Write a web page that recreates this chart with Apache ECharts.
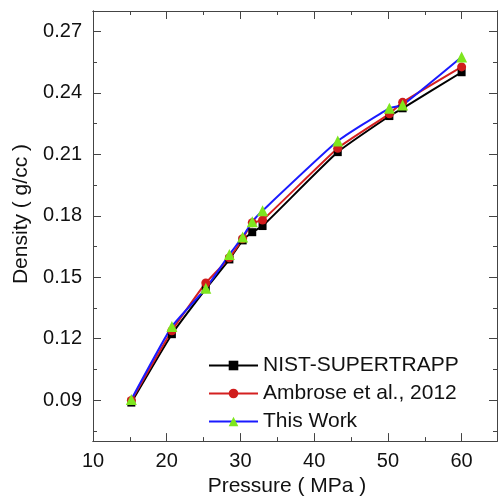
<!DOCTYPE html>
<html>
<head>
<meta charset="utf-8">
<script src="https://cdn.jsdelivr.net/npm/echarts@6/dist/echarts.min.js"></script>
<style>
html,body{margin:0;padding:0;background:#fff;}
#chart{width:498px;height:502px;}
</style>
</head>
<body>
<div id="chart"></div>
<script>
const pressure = [15.2, 20.7, 25.3, 28.5, 30.3, 31.6, 33.0, 43.2, 50.2, 52.0, 60.0];
const nist     = [0.0888, 0.1222, 0.1443, 0.1587, 0.1680, 0.1720, 0.1750, 0.2111, 0.2287, 0.2325, 0.2501];
const ambrose  = [0.0898, 0.1239, 0.1472, 0.1595, 0.1688, 0.1766, 0.1779, 0.2130, 0.2298, 0.2354, 0.2527];
const thisWork = [0.0903, 0.1259, 0.1446, 0.1611, 0.1697, 0.1771, 0.1825, 0.2165, 0.2325, 0.2341, 0.2575];
const seriesNames = ['NIST-SUPERTRAPP', 'Ambrose et al., 2012', 'This Work'];
const xMajor = [10, 20, 30, 40, 50, 60];
const xMinor = [15, 25, 35, 45, 55];
const yMajor = [0.09, 0.12, 0.15, 0.18, 0.21, 0.24, 0.27];
const yMinor = [0.075, 0.105, 0.135, 0.165, 0.195, 0.225, 0.255];

const FONT = 'Liberation Sans, Arial, sans-serif';
const AX = '#444';
const xMin = 10, xMax = 64.8, yMin = 0.07, yMax = 0.28;

function pair(data) { return pressure.map((p, i) => [p, data[i]]); }

function xAx(pos, ticks, len, labels, extra) {
  return Object.assign({
    type: 'value', position: pos, min: xMin, max: xMax,
    axisLine: { show: true, onZero: false, lineStyle: { color: AX, width: 1 } },
    axisTick: { show: true, inside: true, length: len, customValues: ticks, lineStyle: { color: AX, width: 1 } },
    axisLabel: labels ? { show: true, customValues: ticks, margin: 10, fontSize: 20, color: '#111', fontFamily: FONT } : { show: false },
    splitLine: { show: false }
  }, extra || {});
}
function yAx(pos, ticks, len, labels, extra) {
  return Object.assign({
    type: 'value', position: pos, min: yMin, max: yMax,
    axisLine: { show: true, onZero: false, lineStyle: { color: AX, width: 1 } },
    axisTick: { show: true, inside: true, length: len, customValues: ticks, lineStyle: { color: AX, width: 1 } },
    axisLabel: labels ? { show: true, customValues: ticks, margin: 11, fontSize: 20, color: '#111', fontFamily: FONT,
      formatter: v => v.toFixed(2) } : { show: false },
    splitLine: { show: false }
  }, extra || {});
}

const chart = echarts.init(document.getElementById('chart'), null, { renderer: 'canvas' });
chart.setOption({
  animation: false,
  backgroundColor: '#fff',
  grid: { left: 93, top: 11, right: 1, bottom: 53, containLabel: false },
  xAxis: [
    xAx('bottom', xMajor, 8, true, {
      name: 'Pressure ( MPa )', nameLocation: 'middle', nameGap: 30,
      nameTextStyle: { fontSize: 21, color: '#111', fontFamily: FONT, padding: [0, 16, 0, 0] }
    }),
    xAx('bottom', xMinor, 4, false),
    xAx('top', xMajor, 8, false),
    xAx('top', xMinor, 4, false)
  ],
  yAxis: [
    yAx('left', yMajor, 8, true, {
      name: 'Density ( g/cc )', nameLocation: 'middle', nameGap: 60,
      nameTextStyle: { fontSize: 21, color: '#111', fontFamily: FONT, padding: [0, 0, 0, 24] }
    }),
    yAx('left', yMinor, 4, false),
    yAx('right', yMajor, 8, false),
    yAx('right', yMinor, 4, false)
  ],
  legend: {
    data: seriesNames, orient: 'vertical', left: 203, top: 350,
    itemWidth: 49, itemHeight: 12, itemGap: 7,
    textStyle: { fontSize: 21, lineHeight: 20, color: '#111', fontFamily: FONT }
  },
  series: [
    {
      name: seriesNames[0], type: 'line', data: pair(nist), smooth: 0.15,
      symbol: 'rect', symbolSize: 8,
      lineStyle: { color: '#000', width: 2 }, itemStyle: { color: '#000' }
    },
    {
      name: seriesNames[1], type: 'line', data: pair(ambrose), smooth: 0.15,
      symbol: 'circle', symbolSize: 9,
      lineStyle: { color: '#d42020', width: 2 }, itemStyle: { color: '#d01c1c' }
    },
    {
      name: seriesNames[2], type: 'line', data: pair(thisWork), smooth: 0.15,
      symbol: 'triangle', symbolSize: 11,
      lineStyle: { color: '#1a1aff', width: 2 }, itemStyle: { color: '#7ee61e' }
    }
  ]
});
</script>
</body>
</html>
